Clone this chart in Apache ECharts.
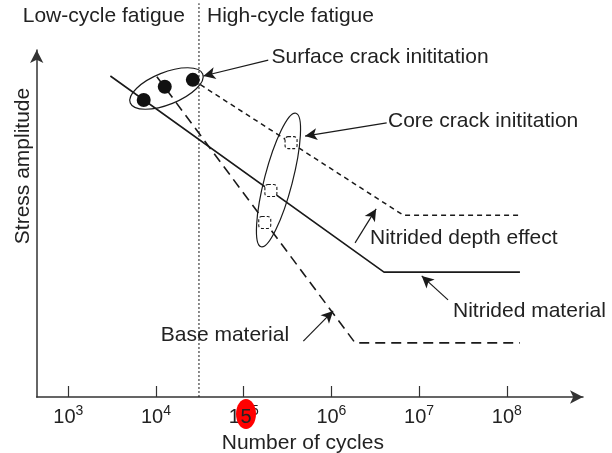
<!DOCTYPE html>
<html>
<head>
<meta charset="utf-8">
<script src="https://cdn.jsdelivr.net/npm/echarts@6/dist/echarts.min.js"></script>
<style>
  html, body { margin: 0; padding: 0; background: #fff; }
  #main { width: 612px; height: 453px; }
</style>
</head>
<body>
<div id="main"></div>
<script>
// x = log10(number of cycles), y = stress amplitude (arbitrary units, 0..100)
var decades = [3, 4, 5, 6, 7, 8];
var nitridedMaterial = [[3.48, 92.5], [6.60, 36.0], [8.15, 36.0]];
var nitridedDepth = [[4.42, 91.4], [6.82, 52.4], [8.15, 52.4]];
var baseMaterial = [[4.01, 92.3], [6.27, 15.6], [8.15, 15.6]];
var surfaceCracks = [[3.86, 85.6], [4.10, 89.4], [4.42, 91.4]];
var coreCracks = [[5.54, 73.3], [5.31, 59.5], [5.24, 50.3]];
var fatigueLimitX = 4.49;
// annotation arrows: [from, to]
var arrows = [
  [[5.28, 97.1], [4.54, 92.5]],
  [[6.63, 79.0], [5.70, 75.2]],
  [[6.27, 44.4], [6.51, 54.2]],
  [[7.33, 28.0], [7.03, 34.9]],
  [[5.68, 16.1], [6.02, 24.8]]
];

var font = "'Liberation Sans', Arial, sans-serif";
var ink = "#1a1a1a";

function txt(x, y, s, rot) {
  return {
    type: "text", x: x, y: y, rotation: rot || 0, z: 10,
    style: { text: s, fill: "#222", font: "21px " + font, textVerticalAlign: "middle",
      textAlign: rot ? "center" : "left" }
  };
}

var myChart = echarts.init(document.getElementById("main"));
myChart.setOption({
  animation: false,
  backgroundColor: "#fff",
  grid: { left: 36.7, right: 29, top: 50, bottom: 56, outerBoundsMode: "none" },
  xAxis: {
    type: "value", min: 2.6397, max: 8.869,
    axisLine: { lineStyle: { color: "#333", width: 1.5 }, symbol: ["none", "arrow"], symbolSize: [10, 13] },
    axisTick: { inside: true, length: 11, lineStyle: { color: "#333", width: 1.2 }, customValues: decades },
    axisLabel: {
      customValues: decades, margin: 7, color: "#222",
      formatter: function (v) { return "{b|10}{s|" + v + "}"; },
      rich: {
        b: { fontSize: 20, fontFamily: font, color: "#222" },
        s: { fontSize: 14, fontFamily: font, color: "#222", padding: [0, 0, 12, 0] }
      }
    },
    splitLine: { show: false },
    name: "Number of cycles", nameLocation: "middle", nameGap: 36,
    nameTextStyle: { fontSize: 21, fontFamily: font, color: "#222", padding: [0, 14, 0, 0] }
  },
  yAxis: {
    type: "value", min: 0, max: 100,
    axisLine: { show: true, lineStyle: { color: "#333", width: 1.5 }, symbol: ["none", "arrow"], symbolSize: [10, 13] },
    axisTick: { show: false }, axisLabel: { show: false }, splitLine: { show: false }
  },
  series: [
    { type: "line", data: [[fatigueLimitX, 0], [fatigueLimitX, 113.5]], clip: false, symbol: "none",
      lineStyle: { color: ink, width: 1, type: [2, 2] } },
    { type: "line", data: nitridedMaterial, symbol: "none", lineStyle: { color: ink, width: 1.6 } },
    { type: "line", data: nitridedDepth, symbol: "none", lineStyle: { color: ink, width: 1.5, type: [5, 4] } },
    { type: "line", data: baseMaterial, symbol: "none", lineStyle: { color: ink, width: 1.6, type: [10, 6] } },
    { type: "scatter", data: surfaceCracks, symbol: "circle", symbolSize: 14, z: 5,
      itemStyle: { color: "#111", opacity: 1 } },
    { type: "scatter", data: coreCracks, symbol: "roundRect", symbolSize: 12, z: 5,
      itemStyle: { color: "#fff", opacity: 1, borderColor: ink, borderWidth: 1.1, borderType: [3, 2] } },
    { type: "line", data: [], symbol: "none",
      markLine: {
        silent: true, symbol: ["none", "arrow"], symbolSize: [9, 12], label: { show: false },
        lineStyle: { color: ink, width: 1.2, type: "solid" },
        data: arrows.map(function (a) { return [{ coord: a[0] }, { coord: a[1] }]; })
      } }
  ],
  graphic: [
    { type: "ellipse", shape: { cx: 0, cy: 0, rx: 39, ry: 16 }, x: 166.5, y: 88.5, rotation: 0.38,
      style: { fill: "none", stroke: ink, lineWidth: 1.2 }, z: 6 },
    { type: "ellipse", shape: { cx: 0, cy: 0, rx: 14, ry: 69 }, x: 278.5, y: 180, rotation: -0.255,
      style: { fill: "none", stroke: ink, lineWidth: 1.2 }, z: 6 },
    txt(22.7, 16, "Low-cycle fatigue"),
    txt(207, 16, "High-cycle fatigue"),
    txt(271.5, 57, "Surface crack inititation"),
    txt(388, 121, "Core crack inititation"),
    txt(370, 238, "Nitrided depth effect"),
    txt(453, 311, "Nitrided material"),
    txt(160.7, 335, "Base material"),
    txt(23, 166, "Stress amplitude", Math.PI / 2),
    { type: "ellipse", shape: { cx: 0, cy: 0, rx: 10, ry: 15 }, x: 246, y: 414, z: 20,
      style: { fill: "#f00" } },
    { type: "text", x: 246, y: 417, z: 21,
      style: { text: "5", fill: "#222", font: "20px " + font, textAlign: "center", textVerticalAlign: "middle" } }
  ]
});
</script>
</body>
</html>
